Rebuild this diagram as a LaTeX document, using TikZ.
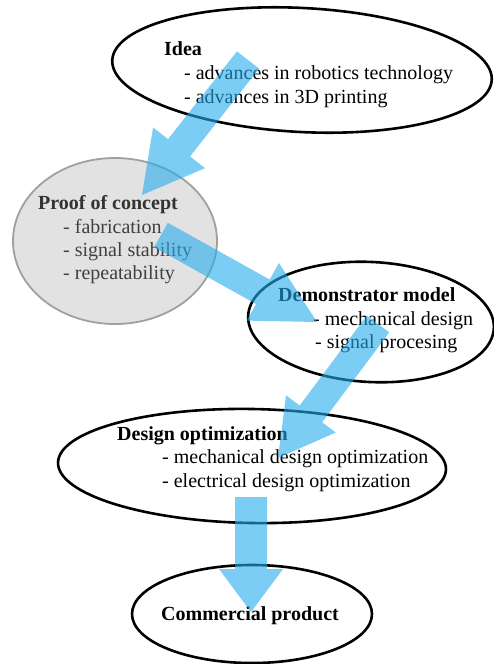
\documentclass[tikz,border=0pt]{standalone}
\usepackage{fontspec}
\setmainfont{Liberation Serif}
\usetikzlibrary{shapes.geometric,calc}
\definecolor{arrowblue}{RGB}{38,172,238}
\definecolor{pocfill}{RGB}{226,226,226}
\definecolor{pocline}{RGB}{160,160,160}
\tikzset{
  oval/.style={ellipse,draw=black,line width=2.6pt,inner sep=0pt},
  pocoval/.style={ellipse,draw=pocline,fill=pocfill,line width=1.8pt,inner sep=0pt},
  txt/.style={anchor=base west,inner sep=0pt,font=\fontsize{20}{24}\selectfont},
  ttl/.style={anchor=base west,inner sep=0pt,font=\fontsize{20}{24}\selectfont\bfseries},
  bluearrow/.style={fill=arrowblue,fill opacity=0.6,draw=none},
}
% #1 start, #2 tip, #3 shaft half width, #4 head half width, #5 head length
\newcommand{\fatarrow}[5]{%
  \coordinate (fab) at ($(#2)!#5!(#1)$);
  \fill[bluearrow] ($(#1)!#3!90:(#2)$) -- ($(fab)!#3!90:(#2)$) -- ($(fab)!#4!90:(#2)$)
    -- (#2) -- ($(fab)!#4!-90:(#2)$) -- ($(fab)!#3!-90:(#2)$) -- ($(#1)!#3!-90:(#2)$) -- cycle;
}
\begin{document}
\begin{tikzpicture}[x=1pt,y=-1pt]
\useasboundingbox (0,0) rectangle (494,664);
\fill[white] (0,0) rectangle (494,664);

% ellipses
\node[oval,minimum width=380pt,minimum height=124pt,rotate=-3] (idea) at (302,70) {};
\node[pocoval,minimum width=204pt,minimum height=166pt] (poc) at (115,241) {};
\node[oval,minimum width=246pt,minimum height=120pt,rotate=-3] (demo) at (371,322) {};
\node[oval,minimum width=388pt,minimum height=114pt,rotate=-1] (opt) at (252,466) {};
\node[oval,minimum width=240pt,minimum height=98pt] (prod) at (252,614) {};

% texts
\node[ttl] (ideaT) at (164,55) {Idea};
\node[txt] (ideaA) at (184,79) {- advances in robotics technology};
\node[txt] (ideaB) at (184,103) {- advances in 3D printing};

\node[ttl,text=black!80] (pocT) at (38,209) {Proof of concept};
\node[txt,text=black!75] (pocA) at (63,233) {- fabrication};
\node[txt,text=black!75] (pocB) at (63,256) {- signal stability};
\node[txt,text=black!75] (pocC) at (63,279) {- repeatability};

\node[ttl] (demoT) at (278,301) {Demonstrator model};
\node[txt] (demoA) at (313,325) {- mechanical design};
\node[txt] (demoB) at (315,348) {- signal procesing};

\node[ttl] (optT) at (117,440) {Design optimization};
\node[txt] (optA) at (162,463) {- mechanical design optimization};
\node[txt] (optB) at (162,487) {- electrical design optimization};

\node[ttl,anchor=base] (prodT) at (250,620) {Commercial product};

% arrows
\coordinate (a1s) at (248,60);  \coordinate (a1t) at (142,195);
\coordinate (a2s) at (161,235); \coordinate (a2t) at (317,322);
\coordinate (a3s) at (378,324); \coordinate (a3t) at (278,458);
\coordinate (a4s) at (251,497); \coordinate (a4t) at (251,612);
\fatarrow{a1s}{a1t}{14pt}{33pt}{60pt}
\fatarrow{a2s}{a2t}{14pt}{33pt}{62pt}
\fatarrow{a3s}{a3t}{14pt}{31pt}{55pt}
\fatarrow{a4s}{a4t}{16pt}{32pt}{43pt}
\end{tikzpicture}
\end{document}
